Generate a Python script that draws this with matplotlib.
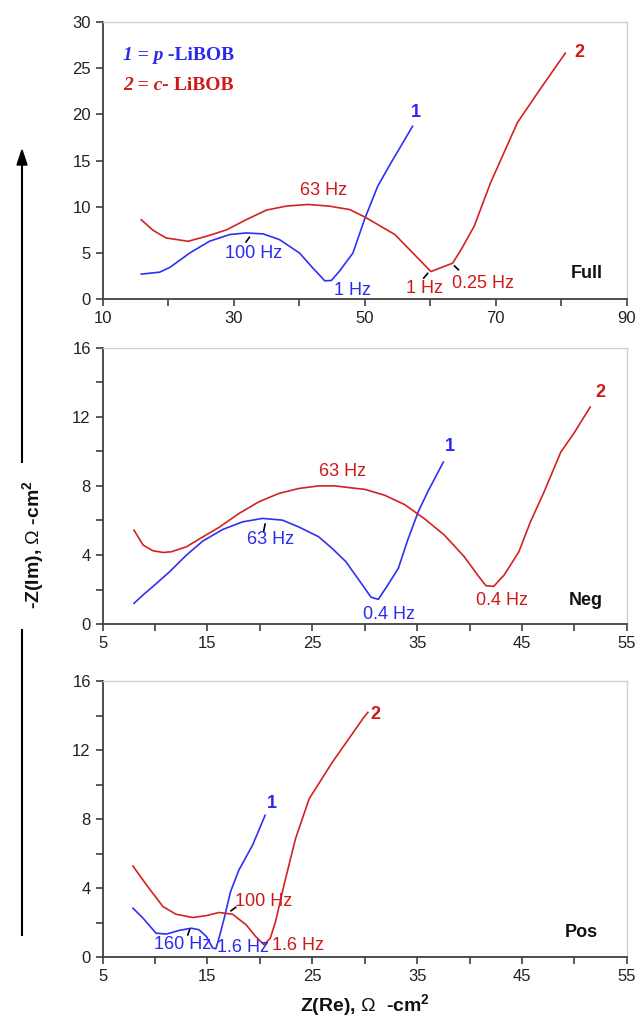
import matplotlib
matplotlib.use("Agg")
import matplotlib.pyplot as plt
from matplotlib.lines import Line2D
from matplotlib.patches import FancyArrow
from matplotlib.ticker import MultipleLocator, FuncFormatter

plt.rcParams['font.family'] = ['Liberation Sans', 'DejaVu Sans']
plt.rcParams['mathtext.fontset'] = 'custom'
plt.rcParams['mathtext.bf'] = 'Liberation Sans:bold'
plt.rcParams['mathtext.rm'] = 'Liberation Sans'

# ---------------- Data ----------------
# Panel "Full"
full_p_x = [15.9, 18.7, 20.25, 23.3, 26.3, 29.4, 31.9, 34.5, 37.0, 40.05, 42.1, 43.9, 44.9, 46.1, 48.2, 50.0, 52.0, 54.05, 57.3]
full_p_y = [2.72, 2.93, 3.44, 5.0, 6.27, 7.0, 7.17, 7.07, 6.45, 5.0, 3.37, 2.0, 2.03, 3.0, 5.0, 8.7, 12.25, 14.8, 18.7]
full_c_x = [15.9, 17.7, 19.7, 23.05, 25.8, 28.9, 31.9, 35.0, 38.0, 41.3, 44.6, 47.7, 50.0, 54.6, 60.1, 63.4, 64.7, 66.7, 69.2, 73.3, 76.8, 80.6]
full_c_y = [8.6, 7.46, 6.63, 6.27, 6.8, 7.5, 8.6, 9.64, 10.07, 10.25, 10.07, 9.7, 8.9, 7.0, 3.0, 3.9, 5.36, 7.9, 12.6, 19.1, 22.75, 26.6]

# Panel "Neg"
neg_p_x = [8.0, 8.86, 9.97, 11.4, 13.0, 14.56, 16.46, 18.35, 20.25, 22.15, 23.7, 25.6, 26.9, 28.2, 29.9, 30.6, 31.3, 32.2, 33.2, 34.1, 35.1, 36.0, 37.5]
neg_p_y = [1.21, 1.69, 2.27, 3.04, 4.0, 4.81, 5.48, 5.92, 6.12, 6.02, 5.63, 5.06, 4.38, 3.62, 2.17, 1.56, 1.44, 2.27, 3.23, 4.87, 6.5, 7.65, 9.38]
neg_c_x = [8.0, 8.86, 9.8, 10.76, 11.55, 13.0, 14.2, 16.1, 18.0, 19.9, 21.8, 23.7, 25.6, 27.2, 28.8, 30.0, 31.9, 33.8, 35.7, 37.6, 39.5, 40.76, 41.55, 42.3, 43.3, 44.7, 45.8, 47.1, 48.7, 49.9, 51.5]
neg_c_y = [5.44, 4.58, 4.25, 4.15, 4.19, 4.48, 4.92, 5.6, 6.4, 7.08, 7.56, 7.85, 8.0, 8.0, 7.88, 7.8, 7.46, 6.92, 6.1, 5.15, 3.9, 2.85, 2.23, 2.19, 2.85, 4.19, 5.92, 7.65, 9.96, 11.0, 12.56]

# Panel "Pos"
pos_p_x = [7.9, 8.86, 10.1, 11.1, 12.3, 13.45, 14.2, 14.9, 15.5, 15.8, 16.1, 16.6, 17.2, 18.0, 19.3, 20.5]
pos_p_y = [2.85, 2.27, 1.4, 1.35, 1.56, 1.69, 1.6, 1.21, 0.54, 0.5, 1.1, 2.27, 3.8, 5.06, 6.5, 8.23]
pos_c_x = [7.9, 9.2, 10.76, 12.0, 13.6, 14.9, 16.1, 17.4, 18.7, 19.6, 20.4, 21.0, 21.5, 22.3, 23.4, 24.7, 26.9, 29.9, 30.3]
pos_c_y = [5.29, 4.19, 2.94, 2.5, 2.31, 2.42, 2.6, 2.5, 1.88, 1.21, 0.73, 1.12, 2.08, 4.19, 6.88, 9.19, 11.3, 13.9, 14.2]

panel_names = ["Full", "Neg", "Pos"]
xlims = [(10, 90), (5, 55), (5, 55)]
ylims = [(0, 30), (0, 16), (0, 16)]

# annotations: (text, x, y, color)
full_notes = [("100 Hz", 33.0, 5.0, 'b'), ("1 Hz", 48.2, 1.0, 'b'), ("63 Hz", 43.7, 11.8, 'r'),
              ("1 Hz", 59.1, 1.2, 'r'), ("0.25 Hz", 68.1, 1.74, 'r')]
neg_notes = [("63 Hz", 21.0, 4.9, 'b'), ("0.4 Hz", 32.3, 0.58, 'b'), ("63 Hz", 27.85, 8.85, 'r'),
             ("0.4 Hz", 43.1, 1.4, 'r')]
pos_notes = [("160 Hz", 12.66, 0.73, 'b'), ("1.6 Hz", 18.35, 0.58, 'b'), ("100 Hz", 20.4, 3.23, 'r'),
             ("1.6 Hz", 23.6, 0.67, 'r')]
# short leader marks: (x0, y0, x1, y1)
full_marks = [(31.9, 6.2, 32.4, 6.7), (59.0, 2.3, 59.6, 2.8), (63.7, 3.6, 64.3, 3.2)]
neg_marks = [(20.35, 5.35, 20.5, 5.79)]
pos_marks = [(13.13, 1.3, 13.3, 1.6), (17.25, 2.7, 17.7, 2.9)]

series_labels = ["1", "2"]
label_pos = [[(57.8, 20.2), (82.7, 26.7)], [(38.1, 10.25), (52.5, 13.4)], [(21.1, 8.9), (31.0, 14.1)]]
panel_label_pos = [(83.9, 2.75), (51.1, 1.4), (50.7, 1.46)]

legend_italic = ["1 = p", "2 = c-"]
legend_rest = [" -LiBOB", " LiBOB"]
legend_y = [25.9, 22.6]

BLUE = '#3030f5'
RED = '#d42222'
BLUE_T = '#2a2af0'
RED_T = '#d01818'

fig = plt.figure(figsize=(6.41, 10.25), dpi=100)
left, width = 0.160, 0.818
boxes = [(0.708, 0.2708), (0.391, 0.2699), (0.066, 0.2693)]

data = [(full_p_x, full_p_y, full_c_x, full_c_y), (neg_p_x, neg_p_y, neg_c_x, neg_c_y),
        (pos_p_x, pos_p_y, pos_c_x, pos_c_y)]
notes = [full_notes, neg_notes, pos_notes]
marks = [full_marks, neg_marks, pos_marks]

for i in range(3):
    b, h = boxes[i]
    ax = fig.add_axes([left, b, width, h])
    px, py, cx, cy = data[i]
    ax.plot(px, py, color=BLUE, lw=1.2)
    ax.plot(cx, cy, color=RED, lw=1.2)
    ax.set_xlim(*xlims[i])
    ax.set_ylim(*ylims[i])
    for s in ['left', 'bottom']:
        ax.spines[s].set_color('#404040')
        ax.spines[s].set_linewidth(1.3)
    for s in ['top', 'right']:
        ax.spines[s].set_color('#d0d0d0')
        ax.spines[s].set_linewidth(1.0)
    ax.tick_params(direction='out', length=5, width=1.2, color='#404040', labelsize=12,
                   labelcolor='#222222', top=False, right=False)
    if i == 0:
        ax.xaxis.set_major_locator(MultipleLocator(10))
        ax.xaxis.set_major_formatter(FuncFormatter(lambda v, p: f"{int(round(v))}" if int(round(v)) % 20 == 10 else ""))
        ax.yaxis.set_major_locator(MultipleLocator(5))
    else:
        ax.xaxis.set_major_locator(MultipleLocator(5))
        ax.xaxis.set_major_formatter(FuncFormatter(lambda v, p: f"{int(round(v))}" if int(round(v)) % 10 == 5 else ""))
        ax.yaxis.set_major_locator(MultipleLocator(2))
        ax.yaxis.set_major_formatter(FuncFormatter(lambda v, p: f"{int(round(v))}" if int(round(v)) % 4 == 0 else ""))
    for (t, x, y, c) in notes[i]:
        ax.text(x, y, t, color=BLUE_T if c == 'b' else RED_T, fontsize=13, ha='center', va='center')
    for (x0, y0, x1, y1) in marks[i]:
        ax.plot([x0, x1], [y0, y1], color='black', lw=1.2)
    for k, (lx, ly) in enumerate(label_pos[i]):
        ax.text(lx, ly, series_labels[k], color=BLUE_T if k == 0 else RED_T, fontsize=13,
                fontweight='bold', ha='center', va='center')
    ax.text(panel_label_pos[i][0], panel_label_pos[i][1], panel_names[i], fontsize=13,
            fontweight='bold', ha='center', va='center', color='#111111')
    if i == 0:
        for k in range(2):
            col = BLUE_T if k == 0 else RED_T
            t1 = ax.text(13.1, legend_y[k], legend_italic[k], color=col, fontsize=14,
                         family='Liberation Serif', fontweight='bold', style='italic',
                         ha='left', va='baseline')
            ax.annotate(legend_rest[k], xy=(1, 0), xycoords=t1, color=col, fontsize=14,
                        family='Liberation Serif', fontweight='bold', ha='left', va='bottom')
    if i == 2:
        ax.set_xlabel(r"Z(Re), $\Omega$  -cm$^{\mathbf{2}}$", fontsize=14, fontweight='bold',
                      labelpad=6, color='#111111')

# y label with arrow
fig.text(34 / 641, 1 - 545 / 1025, r"-Z(Im), $\Omega$ -cm$^{\mathbf{2}}$", rotation=90, fontsize=14,
         fontweight='bold', ha='center', va='center', color='#111111')
fig.add_artist(Line2D([22 / 641, 22 / 641], [1 - 935 / 1025, 1 - 630 / 1025], color='black', lw=1.5,
                      transform=fig.transFigure))
fig.add_artist(Line2D([22 / 641, 22 / 641], [1 - 462 / 1025, 1 - 160 / 1025], color='black', lw=1.5,
                      transform=fig.transFigure))
fig.add_artist(FancyArrow(22 / 641, 1 - 165 / 1025, 0, 15 / 1025, width=0.0,
                          head_width=10 / 641, head_length=15 / 1025,
                          length_includes_head=True, color='black',
                          transform=fig.transFigure))

fig.savefig("out.png", dpi=100)
